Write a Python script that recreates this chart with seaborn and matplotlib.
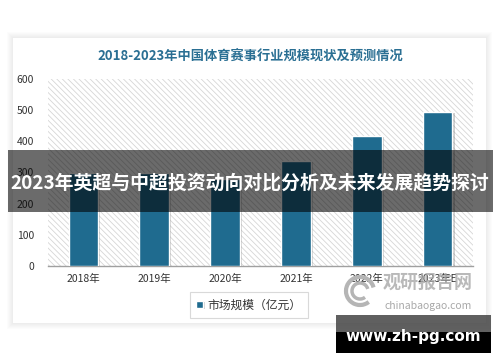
import numpy as np
import pandas as pd
import seaborn as sns
import matplotlib
matplotlib.use("Agg")
import matplotlib.pyplot as plt
import matplotlib.patheffects as pe
from matplotlib.patches import Rectangle, Arc

# data
years = ["2018年", "2019年", "2020年", "2021年", "2022年", "2023年E"]
market_size = [298, 300, 280, 338, 418, 495]
series_name = "市场规模（亿元）"
title = "2018-2023年中国体育赛事行业规模现状及预测情况"
banner = "2023年英超与中超投资动向对比分析及未来发展趋势探讨"

sns.set_theme(style="white")
plt.rcParams["font.family"] = ["Noto Sans CJK SC", "DejaVu Sans"]
plt.rcParams["hatch.linewidth"] = 0.6

W, H = 500, 362
fig = plt.figure(figsize=(W / 100, H / 100), dpi=100)
fig.patch.set_facecolor("white")


def fx(px):
    return px / W


def fy(py):
    return 1 - py / H


# card with soft shadow
for off in range(1, 7):
    fig.patches.append(Rectangle((fx(13 - off), fy(323 + off)), fx(473 + 2 * off),
                                 (285 + 2 * off) / H, transform=fig.transFigure,
                                 facecolor="black", alpha=0.012, edgecolor="none",
                                 zorder=-3))
fig.patches.append(Rectangle((fx(13), fy(323)), fx(473), 285 / H,
                             transform=fig.transFigure, facecolor="white",
                             edgecolor="none", zorder=-1))

ax = fig.add_axes([fx(48), fy(266), fx(425), 187 / H])
ax.set_facecolor("none")

df = pd.DataFrame({"year": years, "value": market_size, "series": series_name})
sns.barplot(data=df, x="year", y="value", hue="series", palette=["#1f6b8f"],
            width=0.42, ax=ax, zorder=3, saturation=1)

for p in ax.patches:
    p.set_path_effects([pe.SimplePatchShadow(offset=(1.5, -1), shadow_rgbFace="#666666",
                                             alpha=0.3), pe.Normal()])

ax.add_patch(Rectangle((-0.5, 0), 6, 600, facecolor="white", edgecolor="#d6d6d6",
                       hatch="\\\\\\\\\\\\", linewidth=0, zorder=0))

ax.set_xlim(-0.5, 5.5)
ax.set_ylim(0, 600)
ax.set_yticks(range(0, 601, 100))
ax.tick_params(axis="both", length=0, labelsize=7.5, colors="#333333")
ax.tick_params(axis="y", pad=10)
ax.tick_params(axis="x", pad=6)
ax.set_xlabel("")
ax.set_ylabel("")
for s in ["top", "right", "left"]:
    ax.spines[s].set_visible(False)
ax.spines["bottom"].set_color("#a0a0a0")
ax.spines["bottom"].set_linewidth(1)

leg = ax.legend(loc="center", bbox_to_anchor=(fx(249 - 48) / fx(425), -(305 - 266) / 187),
                fontsize=8.5, frameon=True, fancybox=False, handlelength=0.55,
                handleheight=0.55, handletextpad=0.4, borderpad=0.55, borderaxespad=0)
leg.get_frame().set_edgecolor("#d0d0d0")
leg.get_frame().set_linewidth(0.8)
for t in leg.get_texts():
    t.set_color("#333333")

fig.text(0.5, fy(57), title, ha="center", va="center", fontsize=9.5,
         fontweight="bold", color="#2a6f93")

# logo watermark
fig.text(fx(428), fy(282), "观研报告网", ha="center", va="center", fontsize=13,
         fontweight="bold", color="#a8a8a8", alpha=0.8, zorder=5)
fig.text(fx(428), fy(306), "chinabaogao.com", ha="center", va="center", fontsize=7.5,
         color="#a8a8a8", zorder=5)
for r, lw in [(28, 3), (16, 2.5)]:
    fig.patches.append(Arc((fx(360), fy(291)), r / W, r / H, theta1=20, theta2=300,
                           transform=fig.transFigure, color="#b5b5b5", linewidth=lw,
                           zorder=5))

# banner overlay
fig.patches.append(Rectangle((fx(8), fy(212)), fx(485), 62 / H, transform=fig.transFigure,
                             facecolor="black", alpha=0.58, edgecolor="none", zorder=10))
fig.text(0.5, fy(183), banner, ha="center", va="center", fontsize=13.6,
         fontweight="bold", color="white", zorder=11)

# site watermark
fig.patches.append(Rectangle((fx(336), fy(332)), fx(155), 17 / H, transform=fig.transFigure,
                             facecolor="#444444", alpha=0.85, edgecolor="none", zorder=10))
fig.patches.append(Rectangle((fx(336), fy(353)), fx(155), 21 / H, transform=fig.transFigure,
                             facecolor="black", edgecolor="none", zorder=10))
fig.text(fx(413), fy(337), "www.zh-pg.com", ha="center", va="center", fontsize=11,
         fontweight="bold", color="white", family=["DejaVu Sans"], zorder=11)

fig.savefig("out.png", dpi=100)
